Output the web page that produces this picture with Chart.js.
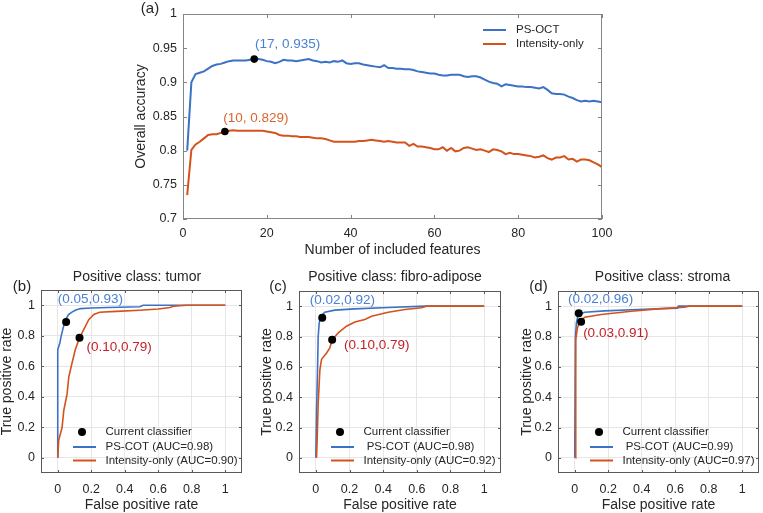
<!DOCTYPE html>
<html>
<head>
<meta charset="utf-8">
<script src="https://cdn.jsdelivr.net/npm/chart.js@4.4.0/dist/chart.umd.min.js"></script>
<style>
  html, body { margin: 0; padding: 0; background: #fff; }
  #wrap { position: relative; width: 763px; height: 513px; overflow: hidden; }
  canvas { position: absolute; }
</style>
</head>
<body>
<div id="wrap">
  <canvas id="chart-a" width="510" height="262" style="left:120px;top:0"></canvas>
  <canvas id="chart-b" width="262" height="248" style="left:0;top:265px"></canvas>
  <canvas id="chart-c" width="262" height="248" style="left:258px;top:265px"></canvas>
  <canvas id="chart-d" width="245" height="248" style="left:518px;top:265px"></canvas>
</div>
<script>
const FONT = '"Liberation Sans", Arial, Helvetica, sans-serif';
const TEXT = '#262626';
const BLUE = '#3b72c6';
const ORANGE = '#d4531c';
const BLUE_TXT = '#4a80d2';
const ORANGE_TXT = '#dc6430';
const RED_TXT = '#c21f26';

// --- Data: (a) accuracy vs number of features ---
const featureCounts = [1,2,3,4,5,6,7,8,9,10,11,12,13,14,15,16,17,18,19,20,21,22,23,24,25,26,27,28,29,30,
  31,32,33,34,35,36,37,38,39,40,41,42,43,44,45,46,47,48,49,50,51,52,53,54,55,56,57,58,59,60,
  61,62,63,64,65,66,67,68,69,70,71,72,73,74,75,76,77,78,79,80,81,82,83,84,85,86,87,88,89,90,
  91,92,93,94,95,96,97,98,99,100];
const accPsOct = [0.800,0.900,0.912,0.914,0.916,0.920,0.924,0.926,0.927,0.929,
  0.931,0.932,0.932,0.932,0.932,0.933,0.934,0.934,0.933,0.931,
  0.930,0.928,0.930,0.933,0.932,0.932,0.931,0.932,0.933,0.934,
  0.932,0.931,0.929,0.930,0.929,0.931,0.930,0.932,0.928,0.927,
  0.928,0.928,0.926,0.925,0.924,0.923,0.922,0.925,0.921,0.921,
  0.920,0.920,0.919,0.919,0.918,0.916,0.915,0.914,0.913,0.913,
  0.911,0.910,0.910,0.911,0.911,0.911,0.909,0.908,0.909,0.909,
  0.907,0.904,0.901,0.899,0.898,0.894,0.897,0.896,0.895,0.894,
  0.894,0.893,0.893,0.892,0.891,0.893,0.889,0.884,0.883,0.883,
  0.882,0.879,0.877,0.874,0.872,0.873,0.872,0.873,0.872,0.871];
const accIntensity = [0.735,0.801,0.809,0.813,0.818,0.823,0.824,0.824,0.826,0.828,
  0.829,0.830,0.829,0.829,0.829,0.829,0.829,0.829,0.829,0.828,
  0.827,0.826,0.823,0.822,0.822,0.821,0.821,0.820,0.820,0.820,
  0.819,0.818,0.818,0.817,0.815,0.813,0.813,0.813,0.813,0.813,
  0.813,0.814,0.814,0.815,0.816,0.815,0.814,0.813,0.814,0.813,
  0.812,0.812,0.812,0.807,0.810,0.806,0.806,0.805,0.804,0.802,
  0.802,0.805,0.800,0.804,0.799,0.800,0.804,0.805,0.803,0.801,
  0.802,0.800,0.798,0.802,0.801,0.799,0.795,0.797,0.795,0.795,
  0.794,0.793,0.792,0.790,0.791,0.793,0.789,0.787,0.790,0.790,
  0.792,0.787,0.788,0.784,0.787,0.787,0.786,0.783,0.780,0.776];
const bestFeatures = [17, 10];
const bestAccuracy = [0.934, 0.828];
const accSeriesNames = ['PS-OCT', 'Intensity-only'];
const featTicks = [0, 20, 40, 60, 80, 100];
const accTicks = [0.7, 0.75, 0.8, 0.85, 0.9, 0.95, 1];

// --- Data: ROC curves ---
const rocTicks = [0, 0.2, 0.4, 0.6, 0.8, 1];

const tumorPsFpr  = [0, 0, 0.006, 0.012, 0.02, 0.032, 0.046, 0.066, 0.085, 0.105, 0.135, 0.2, 0.3, 0.49, 0.51, 1];
const tumorPsTpr  = [0, 0.708, 0.73, 0.75, 0.796, 0.85, 0.906, 0.94, 0.955, 0.967, 0.978, 0.982, 0.985, 0.99, 1, 1];
const tumorIntFpr = [0, 0.006, 0.026, 0.036, 0.056, 0.066, 0.085, 0.105, 0.13, 0.155, 0.185, 0.215, 0.25, 0.35, 0.49, 0.6, 0.67, 0.69, 0.77, 1];
const tumorIntTpr = [0, 0.116, 0.2, 0.31, 0.42, 0.53, 0.62, 0.71, 0.787, 0.84, 0.905, 0.94, 0.954, 0.96, 0.967, 0.975, 0.985, 0.993, 1, 1];
const tumorDotFpr = [0.05, 0.13];
const tumorDotTpr = [0.89, 0.787];
const tumorLegend = ['Current classifier', 'PS-COT (AUC=0.98)', 'Intensity-only (AUC=0.90)'];
const tumorNotes  = ['(0.05,0.93)', '(0.10,0.79)'];

const fibroPsFpr  = [0, 0.004, 0.01, 0.014, 0.02, 0.03, 0.053, 0.113, 0.23, 0.43, 0.648, 1];
const fibroPsTpr  = [0, 0.297, 0.58, 0.8, 0.89, 0.934, 0.96, 0.974, 0.982, 0.991, 1, 1];
const fibroIntFpr = [0.004, 0.008, 0.014, 0.024, 0.034, 0.063, 0.083, 0.097, 0.133, 0.182, 0.232, 0.291, 0.331, 0.43, 0.529, 0.628, 0.657, 1];
const fibroIntTpr = [0, 0.12, 0.36, 0.58, 0.65, 0.69, 0.725, 0.778, 0.824, 0.868, 0.895, 0.912, 0.934, 0.96, 0.978, 0.989, 1, 1];
const fibroDotFpr = [0.038, 0.097];
const fibroDotTpr = [0.923, 0.778];
const fibroLegend = ['Current classifier', ' PS-COT (AUC=0.98)', 'Intensity-only (AUC=0.92)'];
const fibroNotes  = ['(0.02,0.92)', '(0.10,0.79)'];

const stromaPsFpr  = [0, 0.004, 0.01, 0.02, 0.06, 0.178, 0.376, 0.614, 0.618, 1];
const stromaPsTpr  = [0, 0.8, 0.89, 0.945, 0.96, 0.969, 0.978, 0.987, 1, 1];
const stromaIntFpr = [0.004, 0.006, 0.016, 0.03, 0.06, 0.158, 0.337, 0.495, 0.653, 0.683, 1];
const stromaIntTpr = [0, 0.78, 0.857, 0.9, 0.927, 0.945, 0.967, 0.982, 0.993, 1, 1];
const stromaDotFpr = [0.024, 0.038];
const stromaDotTpr = [0.954, 0.897];
const stromaLegend = ['Current classifier', ' PS-COT (AUC=0.99)', 'Intensity-only (AUC=0.97)'];
const stromaNotes  = ['(0.02,0.96)', '(0.03,0.91)'];

// --- Helpers ---
const pts = (xs, ys) => xs.map((x, i) => ({ x, y: ys[i] }));
const fmtTick = v => String(Math.round(v * 100) / 100);

// frame, inward ticks, labels, annotations and in-axes legend
function decorPlugin(d) {
  return {
    id: 'decor',
    afterDraw(chart) {
      const { ctx, chartArea: a, scales } = chart;
      const sx = scales.x, sy = scales.y;
      ctx.save();

      ctx.strokeStyle = d.frame;
      ctx.lineWidth = 1;
      ctx.beginPath();
      d.xTicks.forEach(v => {
        const px = Math.round(sx.getPixelForValue(v)) + 0.5;
        ctx.moveTo(px, a.bottom); ctx.lineTo(px, a.bottom - d.tickLen);
        ctx.moveTo(px, a.top);    ctx.lineTo(px, a.top + d.tickLen);
      });
      d.yTicks.forEach(v => {
        const py = Math.round(sy.getPixelForValue(v)) + 0.5;
        ctx.moveTo(a.left, py);  ctx.lineTo(a.left + d.tickLen, py);
        ctx.moveTo(a.right, py); ctx.lineTo(a.right - d.tickLen, py);
      });
      ctx.stroke();
      ctx.strokeRect(Math.round(a.left) + 0.5, Math.round(a.top) + 0.5,
                     Math.round(a.width) - 1, Math.round(a.height) - 1);

      ctx.textBaseline = 'middle';
      ctx.fillStyle = TEXT;
      ctx.textAlign = 'center';
      ctx.font = `15px ${FONT}`;
      ctx.fillText(d.tag, d.tagX, d.tagY);
      if (d.title) {
        ctx.font = `14px ${FONT}`;
        ctx.fillText(d.title, d.titleX, d.titleY);
      }

      ctx.textAlign = 'left';
      ctx.font = `13.5px ${FONT}`;
      d.notes.forEach(n => {
        ctx.fillStyle = n.color;
        ctx.fillText(n.text, sx.getPixelForValue(n.x), sy.getPixelForValue(n.y));
      });

      const L = d.legend;
      const bx = L.fromRight ? a.right : a.left;
      const by = L.fromBottom ? a.bottom : a.top;
      ctx.font = `11.5px ${FONT}`;
      L.items.forEach((it, i) => {
        const yy = by + L.rows[i];
        if (it.kind === 'dot') {
          ctx.fillStyle = '#000';
          ctx.beginPath();
          ctx.arc(bx + L.dotX, yy, 4, 0, Math.PI * 2);
          ctx.fill();
        } else {
          ctx.strokeStyle = it.color;
          ctx.lineWidth = 2;
          ctx.beginPath();
          ctx.moveTo(bx + L.x0, yy); ctx.lineTo(bx + L.x1, yy);
          ctx.stroke();
        }
        ctx.fillStyle = TEXT;
        ctx.fillText(it.text, bx + L.tx, yy);
      });
      ctx.restore();
    }
  };
}

function axisOpts(o) {
  return {
    type: 'linear',
    min: o.min, max: o.max,
    afterBuildTicks: s => { s.ticks = o.ticks.map(v => ({ value: v })); },
    afterFit: s => { if (o.width) s.width = o.width; if (o.height) s.height = o.height; },
    ticks: { padding: o.pad, color: TEXT, font: { family: FONT, size: 12.5 }, callback: fmtTick },
    grid: { display: o.grid, color: '#e6e6e6', drawTicks: false },
    border: { display: false },
    title: { display: true, text: o.title, color: TEXT,
             font: { family: FONT, size: 14, lineHeight: 1 }, padding: o.titlePad }
  };
}

// --- (a) accuracy chart ---
new Chart(document.getElementById('chart-a'), {
  type: 'scatter',
  data: {
    datasets: [
      { data: pts(bestFeatures, bestAccuracy), showLine: false, pointRadius: 3.8,
        backgroundColor: '#000', borderWidth: 0 },
      { label: accSeriesNames[0], data: pts(featureCounts, accPsOct), showLine: true,
        borderColor: BLUE, borderWidth: 2, pointRadius: 0, tension: 0 },
      { label: accSeriesNames[1], data: pts(featureCounts, accIntensity), showLine: true,
        borderColor: ORANGE, borderWidth: 2, pointRadius: 0, tension: 0 },
    ]
  },
  options: {
    responsive: false,
    animation: false,
    layout: { padding: { top: 14, right: 28, left: 0, bottom: 0 } },
    plugins: { legend: { display: false }, tooltip: { enabled: false } },
    scales: {
      x: axisOpts({ min: 0, max: 100, ticks: featTicks, height: 43, pad: 7, grid: false,
                    title: 'Number of included features', titlePad: { top: 0, bottom: 5 } }),
      y: axisOpts({ min: 0.7, max: 1, ticks: accTicks, width: 63, pad: 6, grid: false,
                    title: 'Overall accuracy', titlePad: { top: 14, bottom: 0 } })
    }
  },
  plugins: [decorPlugin({
    frame: '#858585', tickLen: 4, xTicks: featTicks, yTicks: accTicks,
    tag: '(a)', tagX: 30, tagY: 9,
    notes: [
      { text: '(17, 0.935)', x: 17.2, y: 0.955, color: BLUE_TXT },
      { text: '(10, 0.829)', x: 9.6, y: 0.848, color: ORANGE_TXT }
    ],
    legend: {
      fromRight: true, fromBottom: false, x0: -119, x1: -96, tx: -86, dotX: 0, rows: [16, 30],
      items: [
        { kind: 'line', color: BLUE, text: accSeriesNames[0] },
        { kind: 'line', color: ORANGE, text: accSeriesNames[1] }
      ]
    }
  })]
});

// --- ROC charts ---
function rocChart(id, c) {
  return new Chart(document.getElementById(id), {
    type: 'scatter',
    data: {
      datasets: [
        { label: c.legend[0], data: pts(c.dotFpr, c.dotTpr), showLine: false, pointRadius: 4,
          backgroundColor: '#000', borderWidth: 0 },
        { label: c.legend[2], data: pts(c.intFpr, c.intTpr), showLine: true,
          borderColor: ORANGE, borderWidth: 1.6, pointRadius: 0, tension: 0 },
        { label: c.legend[1], data: pts(c.psFpr, c.psTpr), showLine: true,
          borderColor: BLUE, borderWidth: 1.6, pointRadius: 0, tension: 0 },
      ]
    },
    options: {
      responsive: false,
      animation: false,
      layout: { padding: { top: c.padTop, right: c.padRight, left: 0, bottom: 0 } },
      plugins: { legend: { display: false }, tooltip: { enabled: false } },
      scales: {
        x: axisOpts({ min: -0.1, max: 1.1, ticks: rocTicks, height: 40, pad: 9, grid: true,
                      title: 'False positive rate', titlePad: { top: 0, bottom: 1 } }),
        y: axisOpts({ min: -0.1, max: 1.1, ticks: rocTicks, width: c.axisW, pad: 6, grid: true,
                      title: 'True positive rate', titlePad: { top: c.yTitlePad, bottom: 0 } })
      }
    },
    plugins: [decorPlugin({
      frame: '#595959', tickLen: 3, xTicks: rocTicks, yTicks: rocTicks,
      tag: c.tag, tagX: c.tagX, tagY: 22, title: c.title, titleX: c.titleX, titleY: 12,
      notes: [
        { text: c.notes[0], x: c.noteXY[0], y: c.noteXY[1], color: BLUE_TXT },
        { text: c.notes[1], x: c.noteXY[2], y: c.noteXY[3], color: RED_TXT }
      ],
      legend: {
        fromRight: false, fromBottom: true, x0: 32, x1: 55, tx: 64.5, dotX: 41, rows: [-41, -26, -12.5],
        items: [
          { kind: 'dot', text: c.legend[0] },
          { kind: 'line', color: BLUE, text: c.legend[1] },
          { kind: 'line', color: ORANGE, text: c.legend[2] }
        ]
      }
    })]
  });
}

rocChart('chart-b', {
  psFpr: tumorPsFpr, psTpr: tumorPsTpr, intFpr: tumorIntFpr, intTpr: tumorIntTpr,
  dotFpr: tumorDotFpr, dotTpr: tumorDotTpr, legend: tumorLegend, notes: tumorNotes,
  noteXY: [0, 1.042, 0.171, 0.726],
  tag: '(b)', tagX: 22, title: 'Positive class: tumor', titleX: 137,
  padTop: 25, padRight: 20, axisW: 41, yTitlePad: 0
});

rocChart('chart-c', {
  psFpr: fibroPsFpr, psTpr: fibroPsTpr, intFpr: fibroIntFpr, intTpr: fibroIntTpr,
  dotFpr: fibroDotFpr, dotTpr: fibroDotTpr, legend: fibroLegend, notes: fibroNotes,
  noteXY: [-0.036, 1.037, 0.168, 0.745],
  tag: '(c)', tagX: 20, title: 'Positive class: fibro-adipose', titleX: 137,
  padTop: 26, padRight: 19, axisW: 41, yTitlePad: 2
});

rocChart('chart-d', {
  psFpr: stromaPsFpr, psTpr: stromaPsTpr, intFpr: stromaIntFpr, intTpr: stromaIntTpr,
  dotFpr: stromaDotFpr, dotTpr: stromaDotTpr, legend: stromaLegend, notes: stromaNotes,
  noteXY: [-0.04, 1.043, 0.05, 0.819],
  tag: '(d)', tagX: 20.5, title: 'Positive class: stroma', titleX: 144.5,
  padTop: 26, padRight: 3, axisW: 40, yTitlePad: 2
});
</script>
</body>
</html>
